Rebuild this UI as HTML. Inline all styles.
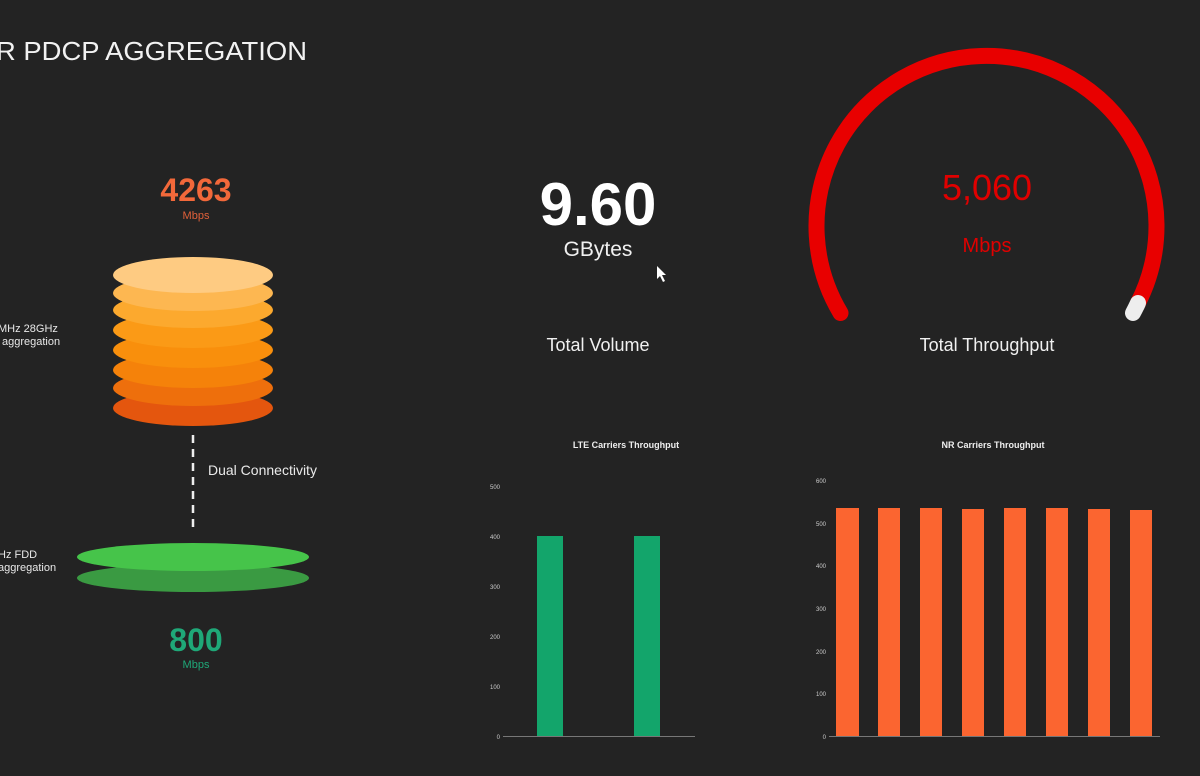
<!DOCTYPE html>
<html><head><style>
html,body{margin:0;padding:0;background:#232323;}
svg{display:block;}
text{font-family:"Liberation Sans",sans-serif;}
</style></head><body>
<svg width="1200" height="776" viewBox="0 0 1200 776">
<rect width="1200" height="776" fill="#232323"/>
<text x="-4" y="60" font-size="26" fill="#f2f2f2" textLength="311" lengthAdjust="spacingAndGlyphs">R PDCP AGGREGATION</text>

<text x="196" y="201" font-size="32" font-weight="bold" fill="#f2683a" text-anchor="middle">4263</text>
<text x="196" y="219" font-size="11" fill="#e0603a" text-anchor="middle">Mbps</text>

<g>
<ellipse cx="193" cy="408" rx="80" ry="18" fill="#e4560e"/>
<ellipse cx="193" cy="388" rx="80" ry="18" fill="#ee6f0c"/>
<ellipse cx="193" cy="370" rx="80" ry="18" fill="#f5820a"/>
<ellipse cx="193" cy="350" rx="80" ry="18" fill="#f98f0c"/>
<ellipse cx="193" cy="330" rx="80" ry="18" fill="#fb9a16"/>
<ellipse cx="193" cy="310" rx="80" ry="18" fill="#fca92e"/>
<ellipse cx="193" cy="293" rx="80" ry="18" fill="#fdb751"/>
<ellipse cx="193" cy="275" rx="80" ry="18" fill="#fecb82"/>
</g>
<text x="-2" y="332" font-size="11" fill="#e8e8e8">MHz 28GHz</text>
<text x="2" y="345" font-size="11" fill="#e8e8e8">aggregation</text>

<line x1="193" y1="435" x2="193" y2="530" stroke="#eee" stroke-width="2.5" stroke-dasharray="8,6"/>
<text x="208" y="475" font-size="14" fill="#eaeaea">Dual Connectivity</text>

<ellipse cx="193" cy="578" rx="116" ry="14" fill="#3a9a42"/>
<ellipse cx="193" cy="557" rx="116" ry="14" fill="#46c44a"/>
<text x="-2" y="558" font-size="11" fill="#e8e8e8">Hz FDD</text>
<text x="-2" y="571" font-size="11" fill="#e8e8e8">aggregation</text>

<text x="196" y="651" font-size="32" font-weight="bold" fill="#1fa878" text-anchor="middle">800</text>
<text x="196" y="668" font-size="11" fill="#1fa878" text-anchor="middle">Mbps</text>

<text x="598" y="225" font-size="60" font-weight="bold" fill="#fff" text-anchor="middle">9.60</text>
<text x="598" y="256" font-size="21" fill="#f0f0f0" text-anchor="middle">GBytes</text>
<text x="598" y="351" font-size="18" fill="#f0f0f0" text-anchor="middle">Total Volume</text>
<path d="M657 266 L657 279 L660 276 L663 282 L665 281 L662 275 L666 275 Z" fill="#fff"/>

<path d="M840.5 313 A170 170 0 1 1 1138 303" fill="none" stroke="#e80000" stroke-width="16" stroke-linecap="round"/>
<path d="M1138 303 A170 170 0 0 1 1133 313" fill="none" stroke="#eeeeee" stroke-width="16" stroke-linecap="round"/>
<text x="987" y="200" font-size="36" fill="#e00000" text-anchor="middle">5,060</text>
<text x="987" y="252" font-size="20" fill="#e00000" text-anchor="middle">Mbps</text>
<text x="987" y="351" font-size="18" fill="#f0f0f0" text-anchor="middle">Total Throughput</text>

<text x="626" y="448" font-size="9" font-weight="bold" fill="#eee" text-anchor="middle">LTE Carriers Throughput</text>
<g font-size="6" fill="#ccc" text-anchor="end">
<text x="500" y="489">500</text><text x="500" y="539">400</text><text x="500" y="589">300</text>
<text x="500" y="639">200</text><text x="500" y="689">100</text><text x="500" y="739">0</text>
</g>
<line x1="503" y1="736.5" x2="695" y2="736.5" stroke="#777" stroke-width="1"/>
<rect x="537" y="536" width="26" height="200" fill="#13a56b"/>
<rect x="634" y="536" width="26" height="200" fill="#13a56b"/>

<text x="993" y="448" font-size="9" font-weight="bold" fill="#eee" text-anchor="middle">NR Carriers Throughput</text>
<g font-size="6" fill="#ccc" text-anchor="end">
<text x="826" y="483">600</text><text x="826" y="526">500</text><text x="826" y="568">400</text>
<text x="826" y="611">300</text><text x="826" y="654">200</text><text x="826" y="696">100</text><text x="826" y="739">0</text>
</g>
<line x1="829" y1="736.5" x2="1160" y2="736.5" stroke="#777" stroke-width="1"/>
<g fill="#fb6530">
<rect x="836" y="508" width="23" height="228"/>
<rect x="878" y="508" width="22" height="228"/>
<rect x="920" y="508" width="22" height="228"/>
<rect x="962" y="509" width="22" height="227"/>
<rect x="1004" y="508" width="22" height="228"/>
<rect x="1046" y="508" width="22" height="228"/>
<rect x="1088" y="509" width="22" height="227"/>
<rect x="1130" y="510" width="22" height="226"/>
</g>
</svg>
</body></html>
